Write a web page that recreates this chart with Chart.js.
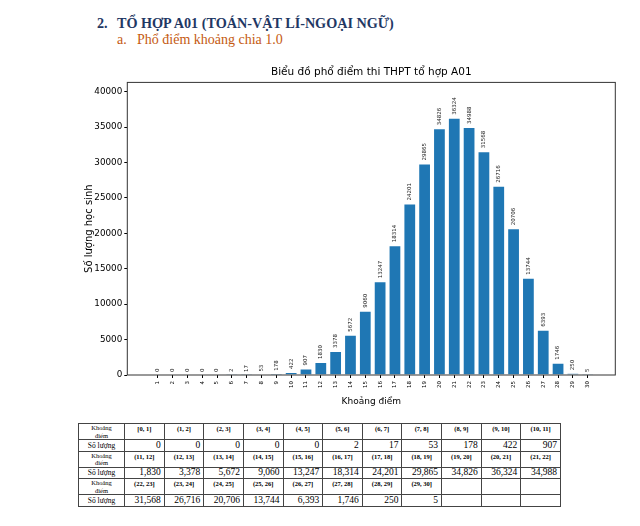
<!DOCTYPE html>
<html lang="vi">
<head>
<meta charset="utf-8">
<title>Phổ điểm tổ hợp A01</title>
<script src="https://cdn.jsdelivr.net/npm/chart.js@4.4.1/dist/chart.umd.min.js"></script>
<style>
  html, body { margin: 0; padding: 0; background: #fff; }
  body { width: 640px; height: 526px; position: relative; overflow: hidden; font-family: "Liberation Serif", "Times New Roman", serif; }
  .head { position: absolute; top: 16px; font-weight: bold; font-size: 14.2px; line-height: 1; color: #1f3864; white-space: nowrap; }
  .sub { position: absolute; top: 33.3px; font-size: 14px; line-height: 1; color: #c55a11; white-space: nowrap; }
  #chartBox { position: absolute; left: 0; top: 60px; width: 640px; height: 350px; }
  #scoreTable { position: absolute; left: 78px; top: 423px; width: 483px; border-collapse: collapse; table-layout: fixed; }
  #scoreTable td { border: 1px solid #444; padding: 0 3px; overflow: hidden; white-space: nowrap; }
  #scoreTable td.lbl { font-size: 6.5px; line-height: 1.1; text-align: center; }
  #scoreTable td.cnt { font-size: 7.5px; line-height: 1; text-align: center; }
  #scoreTable td.rng { font-size: 6.5px; font-weight: bold; text-align: center; vertical-align: top; padding-top: 1px; }
  #scoreTable td.num { font-size: 9.5px; text-align: right; vertical-align: middle; line-height: 1; }
  #scoreTable tr.r-rng { height: 16px; }
  #scoreTable tr.r-num { height: 11.5px; }
</style>
</head>
<body>

<div class="head" style="left:97px">2.</div>
<div class="head" style="left:117px">TỔ HỢP A01 (TOÁN-VẬT LÍ-NGOẠI NGỮ)</div>
<div class="sub" style="left:117px">a.</div>
<div class="sub" style="left:137px">Phổ điểm khoảng chia 1.0</div>

<div id="chartBox"><canvas id="scoreChart"></canvas></div>

<table id="scoreTable"></table>

<script>
/* ================= DATA ================= */
const scoreBins = [1, 2, 3, 4, 5, 6, 7, 8, 9, 10, 11, 12, 13, 14, 15,
    16, 17, 18, 19, 20, 21, 22, 23, 24, 25, 26, 27, 28, 29, 30];

const studentCounts = [0, 0, 0, 0, 0, 2, 17, 53, 178, 422, 907, 1830, 3378, 5672, 9060,
    13247, 18314, 24201, 29865, 34826, 36324, 34988, 31568, 26716, 20706, 13744, 6393, 1746, 250, 5];

const rangeLabels = ['[0, 1]', '(1, 2]', '(2, 3]', '(3, 4]', '(4, 5]', '(5, 6]', '(6, 7]', '(7, 8]',
    '(8, 9]', '(9, 10]', '(10, 11]', '(11, 12]', '(12, 13]', '(13, 14]', '(14, 15]', '(15, 16]',
    '(16, 17]', '(17, 18]', '(18, 19]', '(19, 20]', '(20, 21]', '(21, 22]', '(22, 23]', '(23, 24]',
    '(24, 25]', '(25, 26]', '(26, 27]', '(27, 28]', '(28, 29]', '(29, 30]'];

const yTicks = [0, 5000, 10000, 15000, 20000, 25000, 30000, 35000, 40000];

/* ================= TABLE ================= */
const table = document.getElementById('scoreTable');
let colHtml = '<colgroup><col style="width:46px">';
for (let c = 0; c < 11; c++) colHtml += '<col>';
colHtml += '</colgroup>';
let rowsHtml = '';
for (let start = 0; start < rangeLabels.length; start += 11) {
    let rngRow = '<tr class="r-rng"><td class="lbl">Khoảng<br>điểm</td>';
    let numRow = '<tr class="r-num"><td class="cnt">Số lượng</td>';
    for (let c = 0; c < 11; c++) {
        const i = start + c;
        if (i < rangeLabels.length) {
            rngRow += '<td class="rng">' + rangeLabels[i] + '</td>';
            numRow += '<td class="num">' + studentCounts[i].toLocaleString('en-US') + '</td>';
        } else {
            rngRow += '<td class="rng"></td>';
            numRow += '<td class="num"></td>';
        }
    }
    rowsHtml += rngRow + '</tr>' + numRow + '</tr>';
}
table.innerHTML = colHtml + rowsHtml;

/* ================= PLUGINS ================= */
const valueLabels = {
    id: 'valueLabels',
    afterDatasetsDraw(chart) {
        const ctx = chart.ctx;
        const meta = chart.getDatasetMeta(0);
        ctx.save();
        ctx.font = '5.5px "DejaVu Sans"';
        ctx.fillStyle = '#222';
        ctx.textAlign = 'left';
        ctx.textBaseline = 'middle';
        meta.data.forEach((bar, i) => {
            ctx.save();
            ctx.translate(bar.x, bar.y - 3);
            ctx.rotate(-Math.PI / 2);
            ctx.fillText(String(studentCounts[i]), 0, 0);
            ctx.restore();
        });
        ctx.restore();
    }
};

const frame = {
    id: 'frame',
    afterDraw(chart) {
        const { left, top, right, bottom } = chart.chartArea;
        const ctx = chart.ctx;
        ctx.save();
        ctx.strokeStyle = '#333';
        ctx.lineWidth = 1;
        ctx.strokeRect(left, top, right - left, bottom - top);
        ctx.restore();
    }
};

/* ================= CHART ================= */
Chart.defaults.font.family = '"DejaVu Sans", sans-serif';
Chart.defaults.color = '#000';

new Chart(document.getElementById('scoreChart'), {
    type: 'bar',
    data: {
        datasets: [{
            data: scoreBins.map((x, i) => ({ x: x, y: studentCounts[i] })),
            backgroundColor: '#1f77b4',
            borderColor: '#ffffff',
            borderWidth: 1,
            barPercentage: 0.86,
            categoryPercentage: 1
        }]
    },
    options: {
        responsive: true,
        maintainAspectRatio: false,
        animation: false,
        layout: { padding: { left: 78, right: 24.7, top: 0, bottom: 0 } },
        plugins: {
            legend: { display: false },
            tooltip: { enabled: false },
            title: {
                display: true,
                fullSize: false,
                text: 'Biểu đồ phổ điểm thi THPT tổ hợp A01',
                font: { size: 10.5, weight: 'normal' },
                color: '#000',
                padding: { top: 5.7, bottom: 4.1 }
            }
        },
        scales: {
            x: {
                type: 'linear',
                min: -1.05,
                max: 31.86,
                offset: false,
                afterBuildTicks: scale => { scale.ticks = scoreBins.map(v => ({ value: v })); },
                afterFit: scale => { scale.height = 35; },
                ticks: {
                    autoSkip: false,
                    minRotation: 90,
                    maxRotation: 90,
                    padding: 3,
                    font: { size: 5.5 },
                    callback: v => String(v)
                },
                grid: { offset: false, drawOnChartArea: false, tickLength: 3, color: '#000' },
                border: { display: false },
                title: { display: true, text: 'Khoảng điểm', font: { size: 9 }, padding: { top: 0, bottom: 3.2 } }
            },
            y: {
                min: 0,
                max: 41300,
                afterBuildTicks: scale => { scale.ticks = yTicks.map(v => ({ value: v })); },
                afterFit: scale => { scale.width = 49.3; },
                ticks: { padding: 2, font: { size: 8.8 }, callback: v => String(v) },
                grid: { drawOnChartArea: false, tickLength: 3, color: '#000' },
                border: { display: false },
                title: { display: true, text: 'Số lượng học sinh', font: { size: 10 }, padding: { top: 5 } }
            }
        }
    },
    plugins: [valueLabels, frame]
});
</script>
</body>
</html>
